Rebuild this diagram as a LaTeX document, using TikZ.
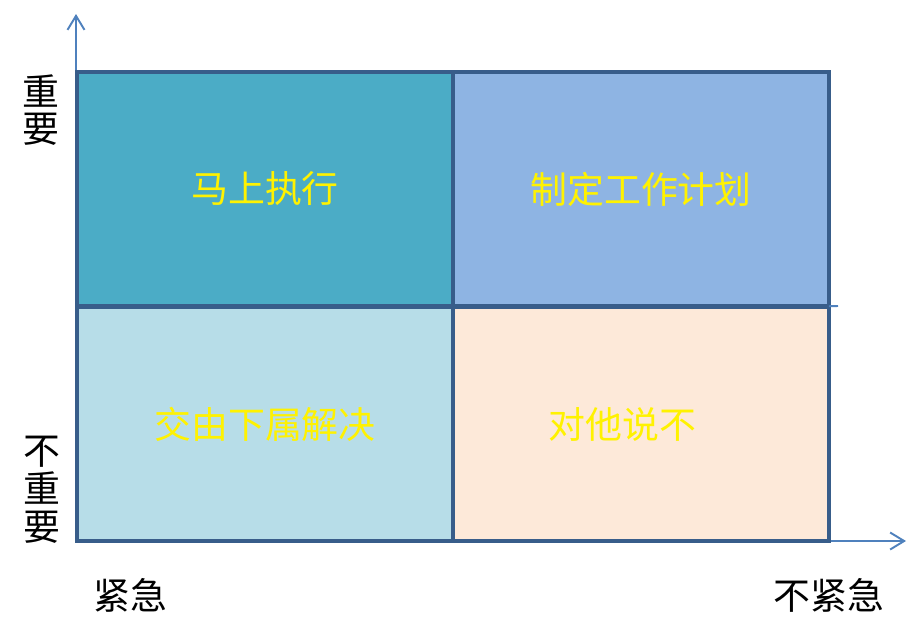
\documentclass[tikz,border=0pt]{standalone}
\usepackage{fontspec}
\setmainfont{Noto Sans CJK SC}
\usetikzlibrary{arrows.meta}
\definecolor{frameblue}{HTML}{385D8A}
\definecolor{axisblue}{HTML}{4F81BD}
\definecolor{doitblue}{HTML}{4BACC6}
\definecolor{planblue}{HTML}{8EB4E3}
\definecolor{delegblue}{HTML}{B7DDE8}
\definecolor{refusepink}{HTML}{FDE9D9}
\tikzset{
  quad/.style     = {draw=frameblue,line width=2.3pt,minimum width=7.52cm,minimum height=4.69cm,
                     inner sep=0pt,outer sep=0pt,text=yellow,font=\fontsize{21pt}{25pt}\selectfont},
  axisarr/.style  = {-{Straight Barb[length=2.8mm,width=3.4mm]},axisblue,line width=1.1pt},
  sidelabel/.style= {align=center,inner sep=0pt,font=\fontsize{21pt}{21.5pt}\selectfont}
}

\begin{document}
\begin{tikzpicture}[x=0.02cm,y=-0.02cm]
  \useasboundingbox (0,0) rectangle (922,626);
  % axes
  \coordinate (origin) at (76,541);
  \coordinate (ytip) at (76,14);
  \coordinate (xtip) at (906,541);
  \draw[axisarr] (origin) -- (ytip);
  \draw[axisarr] (origin) -- (xtip);
  % quadrants
  \node[quad,fill=doitblue]   (q1) at (265,189) {马上执行};
  \node[quad,fill=planblue]   (q2) at (641,189) {制定工作计划};
  \node[quad,fill=delegblue]  (q3) at (265,424) {交由下属解决};
  \node[quad,fill=refusepink] (q4) at (641,424) {\hspace*{-21pt}对他说不};
  \coordinate (stub) at (838,306);
  \draw[axisblue,line width=1.1pt] (q2.south east) -- (stub);
  % labels
  \node[sidelabel] (imp)      at (41,110) {重\\要};
  \node[sidelabel] (notimp)   at (42,490) {不\\重\\要};
  \node[sidelabel] (urgent)   at (130,595) {紧急};
  \node[sidelabel] (noturgent) at (829,595) {不紧急};
\end{tikzpicture}
\end{document}
